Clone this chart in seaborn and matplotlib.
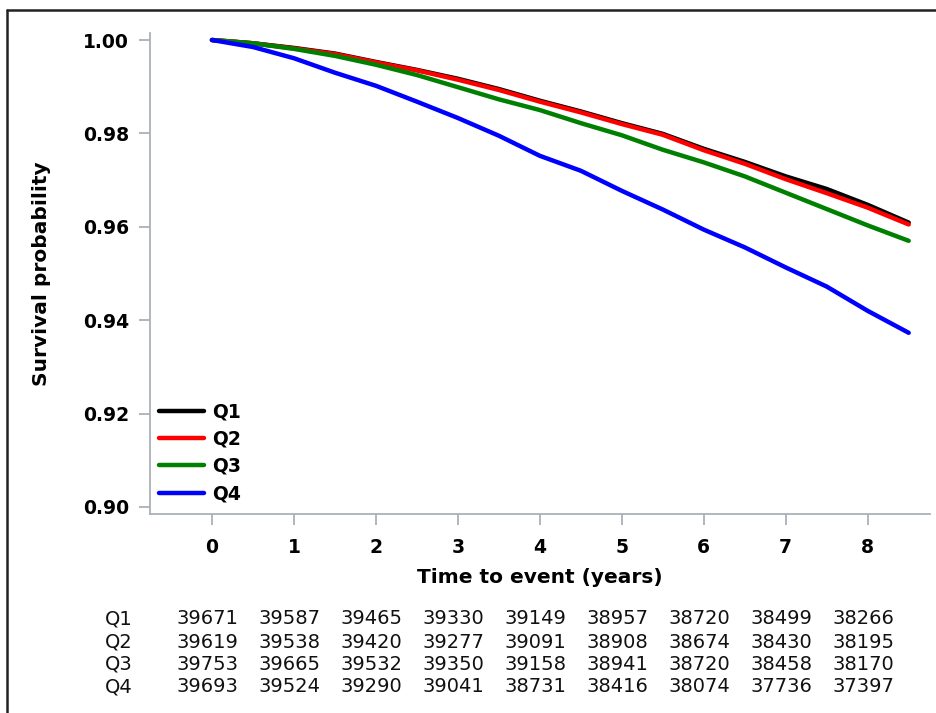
import matplotlib
matplotlib.use("Agg")
import matplotlib.pyplot as plt
import matplotlib.transforms as mtransforms
import seaborn as sns
import pandas as pd
import numpy as np

# Survival estimates, every half year
years = [0, 0.5, 1, 1.5, 2, 2.5, 3, 3.5, 4, 4.5, 5, 5.5, 6, 6.5, 7, 7.5, 8, 8.5]
q1 = [1.0, 0.9993, 0.9983, 0.9971, 0.9953, 0.9936, 0.9917, 0.9895, 0.9870,
      0.9847, 0.9822, 0.9799, 0.9767, 0.9739, 0.9708, 0.9681, 0.9647, 0.9609]
q2 = [1.0, 0.9993, 0.9982, 0.9970, 0.9952, 0.9935, 0.9915, 0.9893, 0.9868,
      0.9845, 0.9820, 0.9797, 0.9764, 0.9735, 0.9702, 0.9672, 0.9641, 0.9605]
q3 = [1.0, 0.9993, 0.9981, 0.9966, 0.9947, 0.9925, 0.9899, 0.9873, 0.9850,
      0.9822, 0.9796, 0.9765, 0.9738, 0.9708, 0.9673, 0.9638, 0.9603, 0.9570]
q4 = [1.0, 0.9985, 0.9961, 0.9930, 0.9902, 0.9868, 0.9833, 0.9795, 0.9752,
      0.9720, 0.9677, 0.9637, 0.9594, 0.9556, 0.9513, 0.9472, 0.9420, 0.9373]

groups = ["Q1", "Q2", "Q3", "Q4"]
colors = {"Q1": "black", "Q2": "red", "Q3": "green", "Q4": "blue"}

# number at risk table
risk_times = [0, 1, 2, 3, 4, 5, 6, 7, 8]
at_risk = {
    "Q1": [39671, 39587, 39465, 39330, 39149, 38957, 38720, 38499, 38266],
    "Q2": [39619, 39538, 39420, 39277, 39091, 38908, 38674, 38430, 38195],
    "Q3": [39753, 39665, 39532, 39350, 39158, 38941, 38720, 38458, 38170],
    "Q4": [39693, 39524, 39290, 39041, 38731, 38416, 38074, 37736, 37397],
}

frames = []
for name, vals in zip(groups, [q1, q2, q3, q4]):
    frames.append(pd.DataFrame({"time": years, "surv": vals, "group": name}))
df = pd.concat(frames, ignore_index=True)

sns.set_style("white")
plt.rcParams["font.family"] = ["DejaVu Sans"]

fig = plt.figure(figsize=(9.36, 7.13), dpi=100)
ax = fig.add_axes([150 / 936, 1 - 514 / 713, 780 / 936, 481 / 713])

sns.lineplot(data=df, x="time", y="surv", hue="group", palette=colors,
             linewidth=3.2, ax=ax, sort=False)

ax.set_xlim(-0.756, 8.76)
ax.set_ylim(0.8985, 1.0015)
ax.set_xticks(range(0, 9))
ax.set_yticks([0.90, 0.92, 0.94, 0.96, 0.98, 1.00])
ax.set_yticklabels(["%.2f" % v for v in [0.90, 0.92, 0.94, 0.96, 0.98, 1.00]])

spine_col = "#aab1b6"
sns.despine(ax=ax)
for s in ["left", "bottom"]:
    ax.spines[s].set_color(spine_col)
    ax.spines[s].set_linewidth(1.3)
ax.tick_params(axis="both", bottom=True, left=True, length=8, width=1.3,
               color=spine_col, pad=7, labelsize=13.5, labelcolor="black")
for lab in ax.get_xticklabels() + ax.get_yticklabels():
    lab.set_fontweight("bold")
ax.tick_params(axis="x", pad=9)

ax.set_xlabel("Time to event (years)", fontsize=14.5, fontweight="bold",
              labelpad=8, color="black")
ax.set_ylabel("Survival probability", fontsize=14.5, fontweight="bold",
              labelpad=23, color="black")

leg = ax.legend(loc="lower left", bbox_to_anchor=(0.011, 0.022), frameon=False,
                borderpad=0, borderaxespad=0, handlelength=2.4, handletextpad=0.45,
                labelspacing=0.45, prop={"size": 13.5, "weight": "bold"})
for line in leg.get_lines():
    line.set_linewidth(3.2)
for txt in leg.get_texts():
    txt.set_color("black")

# at-risk table below the axis
trans = mtransforms.blended_transform_factory(ax.transData, fig.transFigure)
row_y = [619, 642, 664, 687]
for name, py in zip(groups, row_y):
    fy = 1 - py / 713
    fig.text(105 / 936, fy, name, ha="left", va="center", fontsize=14, color="#111111")
    for t, n in zip(risk_times, at_risk[name]):
        ax.text(t - 0.05, fy, str(n), transform=trans, ha="center", va="center",
                fontsize=14, color="#111111", clip_on=False)

# outer frame of the original picture
fig.add_artist(plt.Line2D([7 / 936, 1.0], [1 - 10 / 713, 1 - 10 / 713],
                          transform=fig.transFigure, color="#222222", linewidth=1.8))
fig.add_artist(plt.Line2D([7 / 936, 7 / 936], [1 - 10 / 713, 0.0],
                          transform=fig.transFigure, color="#222222", linewidth=1.8))

fig.savefig("out.png", dpi=100)
